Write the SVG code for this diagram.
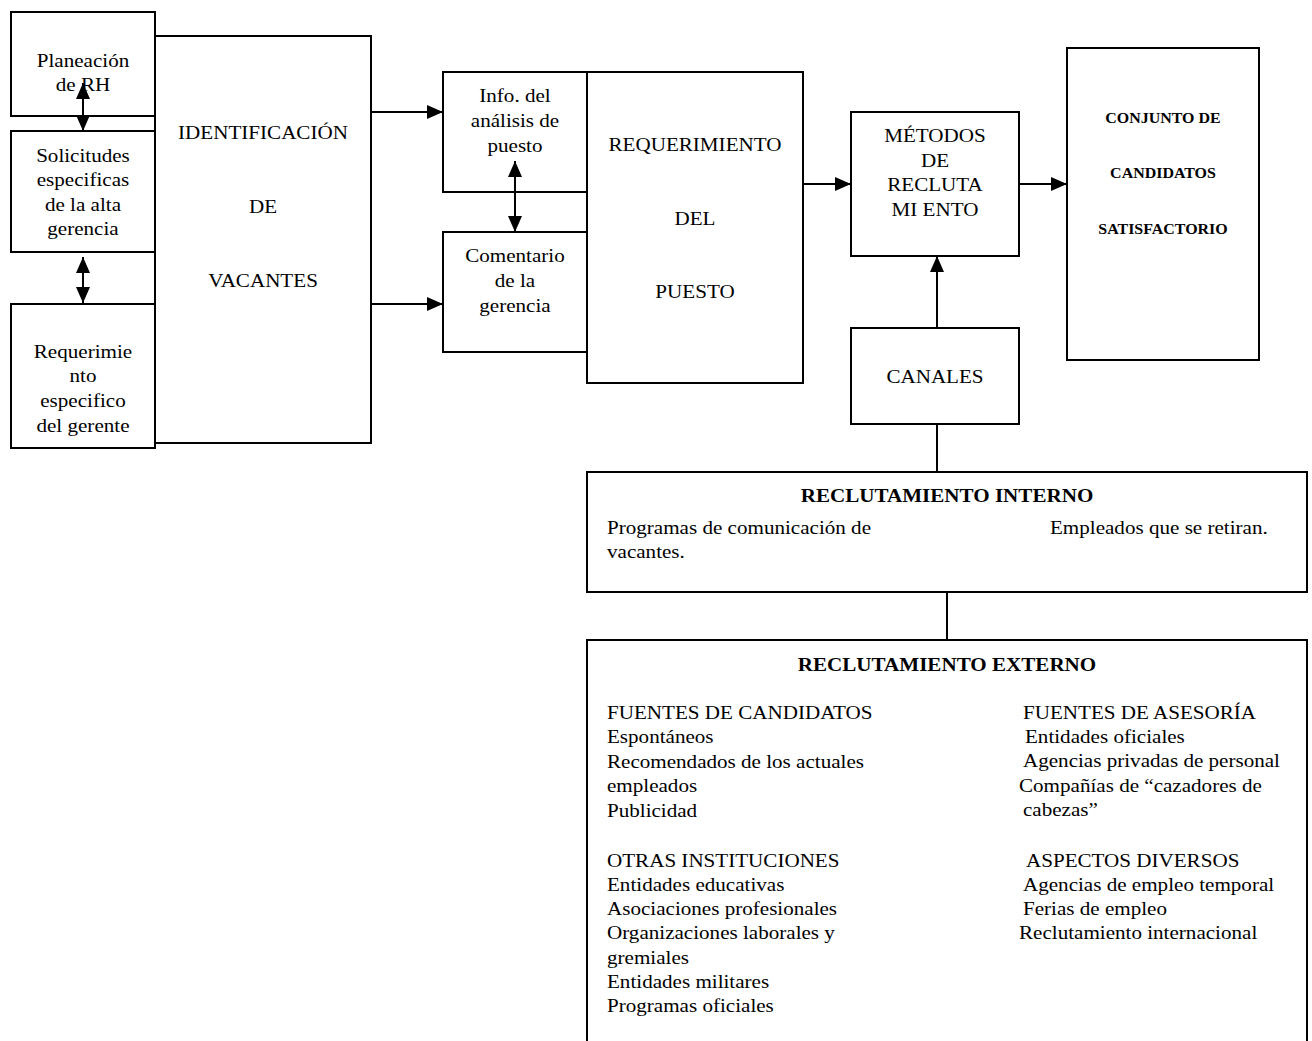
<svg xmlns="http://www.w3.org/2000/svg" width="1312" height="1041" viewBox="0 0 1312 1041">
  <style>
    .box { fill: #ffffff; stroke: #000000; stroke-width: 2; }
    .wire { fill: none; stroke: #000000; stroke-width: 2; }
    .t { font-family: "Liberation Serif", "Times New Roman", serif; font-size: 18.5px; fill: #000000; }
    .c { text-anchor: middle; }
    .b { font-weight: bold; }
    .s { font-size: 14px; }
  </style>
  <defs>
    <marker id="head" markerUnits="userSpaceOnUse" markerWidth="16" markerHeight="14" refX="16" refY="7" orient="auto-start-reverse">
      <path d="M0,0 L16,7 L0,14 Z" fill="#000000"/>
    </marker>
  </defs>

  <rect width="1312" height="1041" fill="#ffffff"/>

  <!-- main column -->
  <g id="identificacion">
    <rect class="box" x="155" y="36" width="216" height="407"/>
    <g transform="matrix(1.14 0 0 1 -36.82 0)">
      <text class="t c" x="263" y="139">IDENTIFICACIÓN</text>
      <text class="t c" x="263" y="213">DE</text>
      <text class="t c" x="263" y="287">VACANTES</text>
    </g>
  </g>

  <g id="planeacion">
    <rect class="box" x="11" y="12" width="144" height="104"/>
    <g transform="matrix(1.14 0 0 1 -11.62 0)">
      <text class="t c" x="83" y="67">Planeación</text>
      <text class="t c" x="83" y="91">de RH</text>
    </g>
  </g>

  <g id="solicitudes">
    <rect class="box" x="11" y="131" width="144" height="121"/>
    <g transform="matrix(1.14 0 0 1 -11.62 0)">
      <text class="t c" x="83" y="162">Solicitudes</text>
      <text class="t c" x="83" y="186">especificas</text>
      <text class="t c" x="83" y="211">de la alta</text>
      <text class="t c" x="83" y="235">gerencia</text>
    </g>
  </g>

  <g id="requerimiento-gerente">
    <rect class="box" x="11" y="304" width="144" height="144"/>
    <g transform="matrix(1.14 0 0 1 -11.62 0)">
      <text class="t c" x="83" y="358">Requerimie</text>
      <text class="t c" x="83" y="382">nto</text>
      <text class="t c" x="83" y="407">especifico</text>
      <text class="t c" x="83" y="432">del gerente</text>
    </g>
  </g>

  <g id="requerimiento-puesto">
    <rect class="box" x="587" y="72" width="216" height="311"/>
    <g transform="matrix(1.14 0 0 1 -97.3 0)">
      <text class="t c" x="695" y="151">REQUERIMIENTO</text>
      <text class="t c" x="695" y="225">DEL</text>
      <text class="t c" x="695" y="298">PUESTO</text>
    </g>
  </g>

  <g id="info-analisis">
    <rect class="box" x="443" y="72" width="144" height="120"/>
    <g transform="matrix(1.14 0 0 1 -72.1 0)">
      <text class="t c" x="515" y="102">Info. del</text>
      <text class="t c" x="515" y="127">análisis de</text>
      <text class="t c" x="515" y="152">puesto</text>
    </g>
  </g>

  <g id="comentario">
    <rect class="box" x="443" y="232" width="144" height="120"/>
    <g transform="matrix(1.14 0 0 1 -72.1 0)">
      <text class="t c" x="515" y="262">Comentario</text>
      <text class="t c" x="515" y="287">de la</text>
      <text class="t c" x="515" y="312">gerencia</text>
    </g>
  </g>

  <g id="metodos">
    <rect class="box" x="851" y="112" width="168" height="144"/>
    <g transform="matrix(1.14 0 0 1 -130.9 0)">
      <text class="t c" x="935" y="142">MÉTODOS</text>
      <text class="t c" x="935" y="167">DE</text>
      <text class="t c" x="935" y="191">RECLUTA</text>
      <text class="t c" x="935" y="216">MI ENTO</text>
    </g>
  </g>

  <g id="conjunto">
    <rect class="box" x="1067" y="48" width="192" height="312"/>
    <g transform="matrix(1.14 0 0 1 -162.82 0)">
      <text class="t c b s" x="1163" y="123">CONJUNTO DE</text>
      <text class="t c b s" x="1163" y="178">CANDIDATOS</text>
      <text class="t c b s" x="1163" y="234">SATISFACTORIO</text>
    </g>
  </g>

  <g id="canales">
    <rect class="box" x="851" y="328" width="168" height="96"/>
    <g transform="matrix(1.14 0 0 1 -130.9 0)">
      <text class="t c" x="935" y="383">CANALES</text>
    </g>
  </g>

  <g id="reclutamiento-interno">
    <rect class="box" x="587" y="472" width="720" height="120"/>
    <g transform="matrix(1.14 0 0 1 -132.58 0)">
      <text class="t c b" x="947" y="502">RECLUTAMIENTO INTERNO</text>
    </g>
    <g transform="matrix(1.14 0 0 1 -84.98 0)">
      <text class="t" x="607" y="534">Programas de comunicación de</text>
      <text class="t" x="607" y="558">vacantes.</text>
    </g>
    <g transform="matrix(1.14 0 0 1 -147 0)">
      <text class="t" x="1050" y="534">Empleados que se retiran.</text>
    </g>
  </g>

  <g id="reclutamiento-externo">
    <path class="box" d="M587,1050 L587,640 L1307,640 L1307,1050"/>
    <g transform="matrix(1.14 0 0 1 -132.58 0)">
      <text class="t c b" x="947" y="671">RECLUTAMIENTO EXTERNO</text>
    </g>
    <g transform="matrix(1.14 0 0 1 -84.98 0)">
      <text class="t" x="607" y="719">FUENTES DE CANDIDATOS</text>
      <text class="t" x="607" y="743">Espontáneos</text>
      <text class="t" x="607" y="768">Recomendados de los actuales</text>
      <text class="t" x="607" y="792">empleados</text>
      <text class="t" x="607" y="817">Publicidad</text>
      <text class="t" x="607" y="867">OTRAS INSTITUCIONES</text>
      <text class="t" x="607" y="891">Entidades educativas</text>
      <text class="t" x="607" y="915">Asociaciones profesionales</text>
      <text class="t" x="607" y="939">Organizaciones laborales y</text>
      <text class="t" x="607" y="964">gremiales</text>
      <text class="t" x="607" y="988">Entidades militares</text>
      <text class="t" x="607" y="1012">Programas oficiales</text>
    </g>
    <g transform="translate(1023 0) scale(1.14 1)">
      <text class="t" x="0" y="719">FUENTES DE ASESORÍA</text>
      <text class="t" x="1.75" y="743">Entidades oficiales</text>
      <text class="t" x="0" y="767">Agencias privadas de personal</text>
      <text class="t" x="-3.5" y="792">Compañías de “cazadores de</text>
      <text class="t" x="0" y="816">cabezas”</text>
      <text class="t" x="2.6" y="867">ASPECTOS DIVERSOS</text>
      <text class="t" x="0" y="891">Agencias de empleo temporal</text>
      <text class="t" x="0" y="915">Ferias de empleo</text>
      <text class="t" x="-3.5" y="939">Reclutamiento internacional</text>
    </g>
  </g>

  <!-- connectors -->
  <g id="connectors">
    <line class="wire" x1="83" y1="83" x2="83" y2="131" marker-start="url(#head)" marker-end="url(#head)"/>
    <line class="wire" x1="83" y1="257" x2="83" y2="303" marker-start="url(#head)" marker-end="url(#head)"/>
    <line class="wire" x1="371" y1="112" x2="443" y2="112" marker-end="url(#head)"/>
    <line class="wire" x1="371" y1="304" x2="443" y2="304" marker-end="url(#head)"/>
    <line class="wire" x1="515" y1="161" x2="515" y2="232" marker-start="url(#head)" marker-end="url(#head)"/>
    <line class="wire" x1="803" y1="184" x2="851" y2="184" marker-end="url(#head)"/>
    <line class="wire" x1="1019" y1="184" x2="1067" y2="184" marker-end="url(#head)"/>
    <line class="wire" x1="937" y1="328" x2="937" y2="256" marker-end="url(#head)"/>
    <line class="wire" x1="937" y1="424" x2="937" y2="472"/>
    <line class="wire" x1="947" y1="592" x2="947" y2="640"/>
  </g>
</svg>
